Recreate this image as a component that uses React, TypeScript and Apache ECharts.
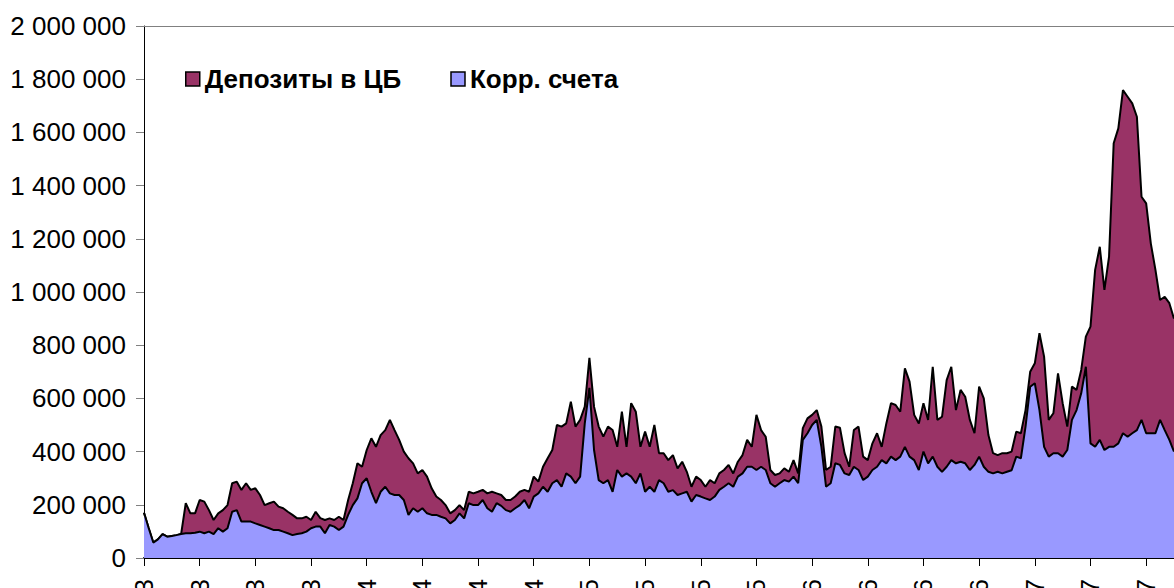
import React, { useEffect, useRef } from "react";
import * as echarts from "echarts";

// Series names (legend order)
const depositsName = "Депозиты в ЦБ";
const corrName = "Корр. счета";

// Categories: 4 points per month, starting January 2003
const startYear = 2003;
const dayMarks = [1, 8, 16, 23];
const pointCount = 223;
const labelEvery = 12; // one label per quarter

// Values in thousands
const corrAccounts = [
  170, 113, 58, 70, 90, 80, 83, 86, 90, 93,
  93, 95, 99, 93, 99, 90, 112, 99, 112, 174,
  180, 137, 137, 137, 130, 124, 118, 112, 105, 105,
  99, 93, 86, 90, 93, 99, 112, 118, 118, 93,
  124, 118, 105, 118, 162, 199, 224, 281, 300, 249,
  206, 249, 268, 243, 237, 237, 218, 162, 187, 174,
  187, 168, 162, 162, 155, 149, 130, 143, 168, 149,
  206, 199, 199, 218, 187, 174, 206, 196, 180, 174,
  187, 199, 218, 187, 231, 243, 268, 249, 281, 293,
  268, 318, 306, 281, 306, 506, 640, 406, 293, 281,
  293, 249, 331, 306, 318, 306, 281, 318, 249, 268,
  249, 293, 281, 249, 255, 237, 243, 249, 212, 237,
  231, 224, 218, 231, 256, 268, 281, 268, 306, 318,
  343, 343, 331, 343, 331, 281, 268, 281, 293, 287,
  306, 281, 444, 469, 500, 519, 418, 268, 281, 356,
  350, 318, 312, 343, 331, 293, 306, 331, 343, 368,
  356, 381, 368, 381, 418, 381, 368, 331, 400, 356,
  381, 343, 324, 343, 368, 356, 362, 356, 331, 350,
  381, 343, 324, 318, 324, 318, 324, 330, 381, 375,
  494, 644, 657, 556, 418, 381, 394, 394, 381, 406,
  519, 556, 619, 719, 431, 418, 444, 406, 418, 418,
  431, 469, 456, 469, 481, 519, 469, 469, 469, 519,
  481, 444, 400,
];

const deposits = [
  0, 0, 0, 0, 0, 0, 0, 0, 0, 113,
  75, 73, 119, 119, 81, 53, 56, 81, 87, 107,
  107, 119, 144, 119, 132, 113, 81, 94, 107, 88,
  88, 81, 76, 59, 56, 56, 31, 56, 32, 50,
  25, 25, 50, 25, 56, 82, 132, 62, 106, 201,
  212, 213, 213, 276, 244, 207, 182, 213, 169, 144,
  144, 138, 100, 69, 63, 50, 38, 37, 31, 31,
  43, 44, 50, 38, 56, 75, 37, 41, 38, 44,
  44, 50, 38, 62, 75, 44, 75, 126, 125, 207,
  226, 188, 282, 213, 213, 63, 112, 163, 201, 175,
  201, 232, 87, 244, 100, 276, 269, 100, 226, 150,
  251, 101, 113, 119, 132, 100, 119, 75, 56, 69,
  62, 44, 75, 50, 62, 63, 69, 50, 56, 69,
  101, 75, 207, 138, 125, 50, 44, 37, 44, 37,
  62, 37, 44, 56, 38, 37, 76, 63, 62, 138,
  140, 76, 31, 138, 163, 88, 62, 100, 126, 50,
  150, 201, 207, 169, 295, 282, 170, 175, 182, 163,
  338, 176, 207, 326, 351, 200, 270, 250, 188, 119,
  263, 257, 138, 76, 63, 76, 70, 70, 94, 94,
  62, 56, 75, 289, 339, 138, 150, 300, 201, 88,
  125, 76, 88, 113, 439, 665, 726, 602, 715, 1141,
  1184, 1290, 1278, 1240, 1178, 839, 864, 714, 614, 451,
  501, 514, 500,
];

// Y axis (thousands)
const yMin = 0;
const yMax = 2000;
const yStep = 200;

const pad2 = (n: number) => (n < 10 ? "0" + n : String(n));

function buildCategories(): string[] {
  const out: string[] = [];
  for (let i = 0; i < pointCount; i++) {
    const m = Math.floor(i / 4);
    const year = startYear + Math.floor(m / 12);
    const month = (m % 12) + 1;
    const day = dayMarks[i % 4];
    out.push(`${pad2(day)}.${pad2(month)}.${String(year).slice(2)}`);
  }
  return out;
}

const fmtThousands = (v: number) => {
  const full = Math.round(v * 1000);
  if (full === 0) return "0";
  return String(full).replace(/\B(?=(\d{3})+(?!\d))/g, " ");
};

const FONT = "Arial, 'Liberation Sans', sans-serif";

export default function App() {
  const ref = useRef<HTMLDivElement>(null);

  useEffect(() => {
    document.body.style.margin = "0";
    if (!ref.current) return;
    const chart = echarts.init(ref.current, undefined, { renderer: "svg" });
    const categories = buildCategories();
    const showQuarter = (idx: number) => idx % labelEvery === 0;

    chart.setOption({
      animation: false,
      textStyle: { fontFamily: FONT },
      grid: {
        left: 144,
        right: 0,
        top: 26,
        bottom: 30,
        containLabel: false,
        outerBoundsMode: "none",
      },
      legend: {
        data: [depositsName, corrName],
        left: 180,
        top: 61,
        icon: "rect",
        itemWidth: 14,
        itemHeight: 14,
        itemGap: 49,
        textStyle: { fontSize: 26, fontWeight: "bold", color: "#000", fontFamily: FONT },
        itemStyle: { borderColor: "#000", borderWidth: 1.5 },
      },
      xAxis: [
        {
          type: "category",
          data: categories,
          boundaryGap: false,
          axisLine: { lineStyle: { color: "#000", width: 2 } },
          axisTick: { interval: showQuarter, length: 8, lineStyle: { color: "#000", width: 1 } },
          axisLabel: {
            interval: showQuarter,
            rotate: 90,
            margin: 21,
            fontSize: 26,
            color: "#000",
            fontFamily: FONT,
          },
          splitLine: { show: false },
        },
        {
          type: "category",
          data: categories,
          boundaryGap: false,
          position: "top",
          axisLine: { lineStyle: { color: "#808080", width: 1 } },
          axisTick: { show: false },
          axisLabel: { show: false },
          splitLine: { show: false },
        },
      ],
      yAxis: {
        type: "value",
        min: yMin,
        max: yMax,
        interval: yStep,
        axisLine: { show: true, lineStyle: { color: "#000", width: 1 } },
        axisTick: { show: true, length: 8, lineStyle: { color: "#808080" } },
        splitLine: { show: false },
        axisLabel: {
          fontSize: 26,
          color: "#000",
          margin: 18,
          fontFamily: FONT,
          formatter: fmtThousands,
        },
      },
      series: [
        {
          name: corrName,
          type: "line",
          stack: "total",
          data: corrAccounts,
          symbol: "none",
          showSymbol: false,
          itemStyle: { color: "#9999FF" },
          lineStyle: { color: "#000", width: 2 },
          areaStyle: { color: "#9999FF", opacity: 1 },
          z: 3,
        },
        {
          name: depositsName,
          type: "line",
          stack: "total",
          data: deposits,
          symbol: "none",
          showSymbol: false,
          itemStyle: { color: "#993366" },
          lineStyle: { color: "#000", width: 2 },
          areaStyle: { color: "#993366", opacity: 1 },
          z: 2,
        },
      ],
    });

    return () => chart.dispose();
  }, []);

  return <div ref={ref} style={{ width: 1174, height: 588, overflow: "hidden" }} />;
}
